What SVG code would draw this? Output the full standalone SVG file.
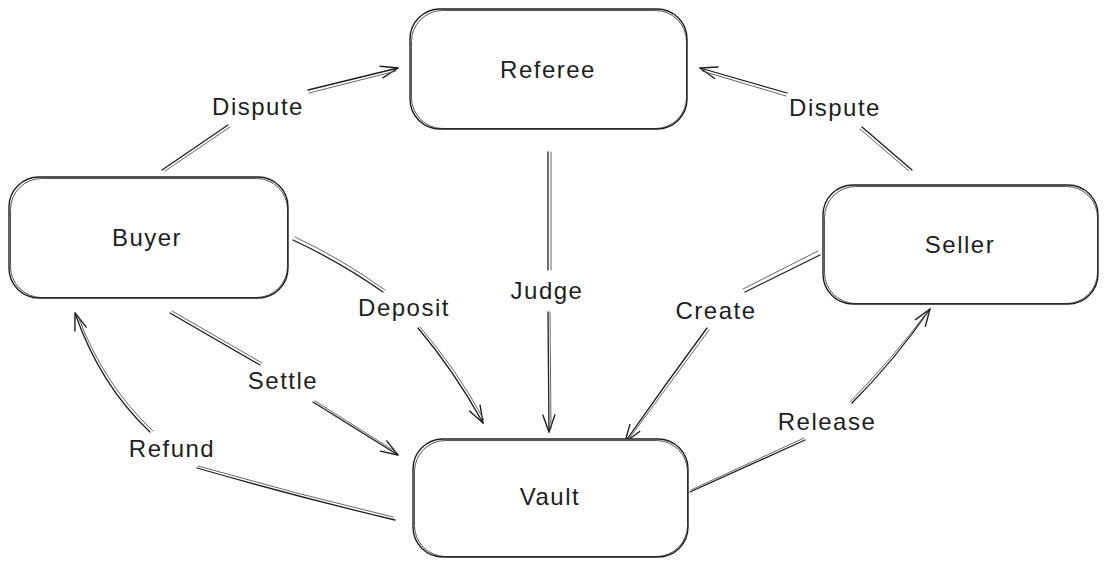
<svg xmlns="http://www.w3.org/2000/svg" xmlns:xlink="http://www.w3.org/1999/xlink" width="1108" height="567" viewBox="0 0 1108 567">
<style>
.box{fill:#ffffff;stroke:#1e1e1e;stroke-width:1.4}
.box2{fill:none;stroke:#1e1e1e;stroke-width:0.9;opacity:0.85}
.lbl{font-family:"Liberation Sans",Arial,sans-serif;font-size:24px;letter-spacing:1.5px;fill:#1e1e1e;text-anchor:middle}
.ln{fill:none;stroke:#1e1e1e;stroke-width:1.3;stroke-linecap:round}
.ln2{fill:none;stroke:#555;stroke-width:0.9;stroke-linecap:round}
</style>
<defs>
<marker id="ah" viewBox="-20 -10 22 20" refX="0" refY="0" markerWidth="22" markerHeight="20" markerUnits="userSpaceOnUse" orient="auto">
<path d="M -17 -6 L 0 0 L -17 6" fill="none" stroke="#1e1e1e" stroke-width="1.4" stroke-linecap="round" stroke-linejoin="round"/>
</marker>
</defs>
<rect width="1108" height="567" fill="#ffffff"/>
<g id="connectors">
<path class="ln" d="M162,170 L228,125"/><path class="ln2" d="M165,171 L230,127"/>
<path class="ln" d="M308,90 L398,68" marker-end="url(#ah)"/><path class="ln2" d="M309,93 L396,71"/>
<path class="ln" d="M912,170 L862,127"/><path class="ln2" d="M909,171 L860,129"/>
<path class="ln" d="M787,93 L700,68" marker-end="url(#ah)"/><path class="ln2" d="M786,96 L702,71"/>
<path class="ln" d="M548,152 L548,270"/><path class="ln2" d="M551,152 L551,270"/>
<path class="ln" d="M548,312 L549,432" marker-end="url(#ah)"/><path class="ln2" d="M550,312 L551,428"/>
<path class="ln" d="M293,240 Q340,262 383,292"/><path class="ln2" d="M295,237 Q342,259 385,290"/>
<path class="ln" d="M418,328 Q455,372 483,423" marker-end="url(#ah)"/><path class="ln2" d="M420,327 Q457,370 484,420"/>
<path class="ln" d="M170,313 L260,365"/><path class="ln2" d="M172,311 L262,363"/>
<path class="ln" d="M313,402 L398,455" marker-end="url(#ah)"/><path class="ln2" d="M315,401 L396,452"/>
<path class="ln" d="M395,520 Q298,497 197,468"/><path class="ln2" d="M393,517 Q296,494 198,466"/>
<path class="ln" d="M150,432 Q100,385 75,313" marker-end="url(#ah)"/><path class="ln2" d="M153,431 Q103,384 78,316"/>
<path class="ln" d="M820,255 L745,292"/><path class="ln2" d="M818,251 L743,289"/>
<path class="ln" d="M707,328 Q665,385 625,442" marker-end="url(#ah)"/><path class="ln2" d="M709,330 Q668,386 628,440"/>
<path class="ln" d="M690,492 L805,440"/><path class="ln2" d="M691,490 L804,438"/>
<path class="ln" d="M852,403 Q895,360 930,309" marker-end="url(#ah)"/><path class="ln2" d="M850,402 Q893,358 928,311"/>
</g>
<g id="labels">
<text class="lbl" x="258" y="115">Dispute</text>
<text class="lbl" x="835" y="116">Dispute</text>
<text class="lbl" x="547" y="299">Judge</text>
<text class="lbl" x="404" y="316">Deposit</text>
<text class="lbl" x="283" y="389">Settle</text>
<text class="lbl" x="172" y="457">Refund</text>
<text class="lbl" x="716" y="319">Create</text>
<text class="lbl" x="827" y="430">Release</text>
</g>
<g id="referee">
<rect class="box" x="410" y="9" width="277" height="120" rx="30"/>
<rect class="box2" x="411.5" y="10.5" width="275" height="118" rx="31"/>
<text class="lbl" x="548" y="78">Referee</text>
</g>
<g id="buyer">
<rect class="box" x="9" y="177" width="279" height="121" rx="30"/>
<rect class="box2" x="10.5" y="178.5" width="277" height="119" rx="31"/>
<text class="lbl" x="147" y="246">Buyer</text>
</g>
<g id="seller">
<rect class="box" x="823" y="185" width="275" height="119" rx="30"/>
<rect class="box2" x="824.5" y="186.5" width="273" height="117" rx="31"/>
<text class="lbl" x="960" y="253">Seller</text>
</g>
<g id="vault">
<rect class="box" x="413" y="439" width="275" height="118" rx="30"/>
<rect class="box2" x="414.5" y="440.5" width="273" height="116" rx="31"/>
<text class="lbl" x="550" y="505">Vault</text>
</g>
</svg>
